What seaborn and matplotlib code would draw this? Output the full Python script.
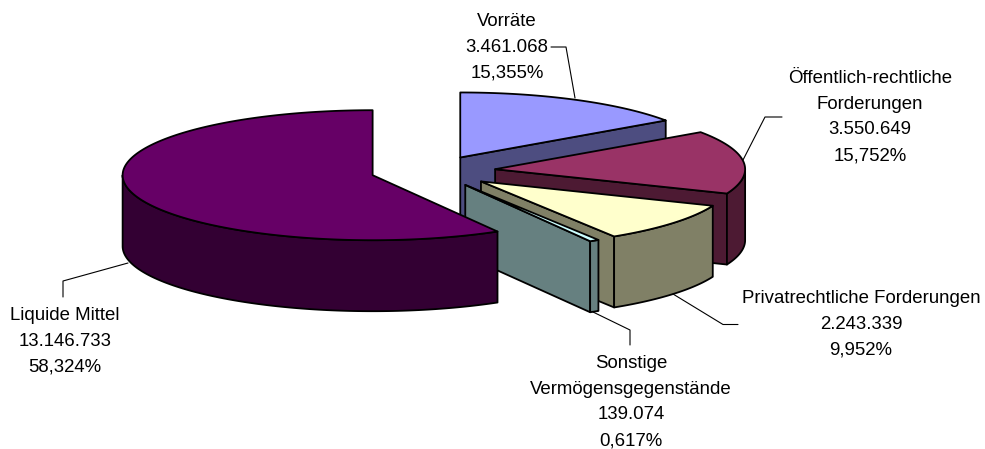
import numpy as np
import pandas as pd
import matplotlib.pyplot as plt
import seaborn as sns


# =========================
# Data
# =========================
names = [
    "Vorräte",
    "Öffentlich-rechtliche\nForderungen",
    "Privatrechtliche Forderungen",
    "Sonstige\nVermögensgegenstände",
    "Liquide Mittel",
]
amounts = [3461068, 3550649, 2243339, 139074, 13146733]
amount_labels = ["3.461.068", "3.550.649", "2.243.339", "139.074", "13.146.733"]
share_labels = ["15,355%", "15,752%", "9,952%", "0,617%", "58,324%"]
top_colors = ["#9999FF", "#993366", "#FFFFCC", "#CCFFFF", "#660066"]
explode = [0.235, 0.25, 0.25, 0.25, 0.25]

df = pd.DataFrame({"name": names, "amount": amounts})
df["sweep"] = df["amount"] / df["amount"].sum() * 2 * np.pi
df["end"] = df["sweep"].cumsum()
df["start"] = df["end"] - df["sweep"]


# =========================
# Pie geometry (pixels)
# =========================
CX, CY = 433, 171
RX, RY = 250, 65
DEPTH = 71


def ring(angles, x0, y0):
    # angle runs clockwise from 12 o'clock
    return x0 + RX * np.sin(angles), y0 - RY * np.cos(angles)


sns.set_theme(style="white")
plt.rcParams["font.family"] = ["Liberation Sans", "DejaVu Sans"]

fig = plt.figure(figsize=(9.85, 4.49), dpi=100)
ax = fig.add_axes([0, 0, 1, 1])
ax.set_xlim(0, 985)
ax.set_ylim(449, 0)
ax.axis("off")

palette = sns.color_palette(top_colors)
outline = {"edgecolor": "black", "linewidth": 1.3, "joinstyle": "round"}

for i, row in df.iterrows():
    mid = (row["start"] + row["end"]) / 2
    x0 = CX + explode[i] * RX * np.sin(mid)
    y0 = CY - explode[i] * RY * np.cos(mid)
    side = tuple(c / 2 for c in palette[i])

    # cut face at the end angle, only when it turns towards the viewer
    if row["end"] < 2 * np.pi - 1e-6:
        ex, ey = ring(row["end"], x0, y0)
        ax.fill(
            [x0, ex, ex, x0],
            [y0, ey, ey + DEPTH, y0 + DEPTH],
            facecolor=side,
            **outline,
        )

    # outer rim, front half of the ellipse only
    lo = max(row["start"], np.pi / 2)
    hi = min(row["end"], 3 * np.pi / 2)
    if hi > lo:
        t = np.linspace(lo, hi, 120)
        rx, ry = ring(t, x0, y0)
        ax.fill(
            np.r_[rx, rx[::-1]],
            np.r_[ry, ry[::-1] + DEPTH],
            facecolor=side,
            **outline,
        )

    # top
    t = np.linspace(row["start"], row["end"], 240)
    tx, ty = ring(t, x0, y0)
    ax.fill(np.r_[x0, tx], np.r_[y0, ty], facecolor=palette[i], **outline)


# =========================
# Labels and leader lines
# =========================
label_pos = [(507, 13), (870, 70), (861, 290), (631, 355), (65, 307)]
leaders = [
    ([551, 566, 575], [47, 47, 98]),
    ([782, 765, 743], [117, 117, 160]),
    ([738, 723, 673], [324.5, 324.5, 294]),
    ([630, 630, 593], [345, 330, 312]),
    ([63, 63, 128], [297, 281, 263]),
]

for i, (lx, ly) in enumerate(label_pos):
    ax.text(
        lx,
        ly,
        f"{names[i]}\n{amount_labels[i]}\n{share_labels[i]}",
        ha="center",
        va="top",
        fontsize=13.4,
        color="black",
        linespacing=1.67,
    )
    ax.plot(leaders[i][0], leaders[i][1], color="black", lw=0.8, zorder=1)

plt.savefig("out.png", dpi=100)
plt.close()
